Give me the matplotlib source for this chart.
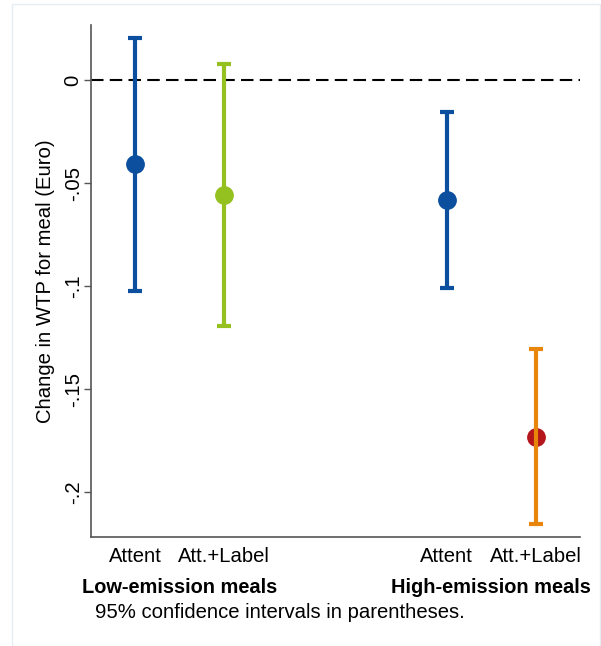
import matplotlib.pyplot as plt
from matplotlib.patches import Rectangle

plt.rcParams['font.family'] = ['Liberation Sans', 'DejaVu Sans']

# estimates and 95% CIs
labels = ['Attent', 'Att.+Label', 'Attent', 'Att.+Label']
groups = ['Low-emission meals', 'High-emission meals']
xpos = [1, 2, 4.5, 5.5]
means = [-0.0408, -0.0558, -0.0583, -0.1733]
lower = [-0.1024, -0.1194, -0.1010, -0.2155]
upper = [0.0204, 0.0078, -0.0155, -0.1306]
line_colors = ['#0b4f9e', '#94c11f', '#0b4f9e', '#e8860c']
dot_colors = ['#0b4f9e', '#94c11f', '#0b4f9e', '#b5161b']

fig = plt.figure(figsize=(6.01, 6.46), dpi=100)
fig.patches.append(Rectangle((12/601, 0), 1 - 13/601, 1 - 4/646, transform=fig.transFigure,
                             fill=False, edgecolor='#e6edf2', linewidth=1))
ax = fig.add_axes([91/601, 109/646, 489/601, 512/646])

ax.axhline(0, color='black', linestyle=(0, (6, 3)), linewidth=1.5, zorder=1)

for i in range(len(xpos)):
    # the last one has the bar drawn over the dot
    zdot = 2 if i == 3 else 4
    ax.plot(xpos[i], means[i], 'o', color=dot_colors[i], markersize=12.5, zorder=zdot)
    ax.errorbar(xpos[i], means[i], yerr=[[means[i] - lower[i]], [upper[i] - means[i]]],
                fmt='none', ecolor=line_colors[i], elinewidth=3, capsize=5, capthick=3, zorder=3)

fs = 14.6
ax.set_xlim(0.5, 6)
ax.set_ylim(-0.2218, 0.0267)
ax.set_yticks([0, -0.05, -0.1, -0.15, -0.2])
ax.set_yticklabels(['0', '-.05', '-.1', '-.15', '-.2'], rotation=90, va='center', fontsize=fs)
ax.set_xticks(xpos)
ax.set_xticklabels(labels, fontsize=fs)
ax.tick_params(axis='x', length=0, pad=7)
ax.tick_params(axis='y', length=5, width=1, color='#555555', pad=1)
ax.set_ylabel('Change in WTP for meal (Euro)', fontsize=fs, labelpad=6)

for s in ['top', 'right']:
    ax.spines[s].set_visible(False)
for s in ['left', 'bottom']:
    ax.spines[s].set_color('#555555')
    ax.spines[s].set_linewidth(1.2)

ax.text((xpos[0] + xpos[1]) / 2, -0.2465, groups[0], ha='center', va='center',
        fontsize=14.4, fontweight='bold')
ax.text((xpos[2] + xpos[3]) / 2, -0.2465, groups[1], ha='center', va='center',
        fontsize=14.4, fontweight='bold')
fig.text(95/601, 1 - 613/646, '95% confidence intervals in parentheses.', ha='left', va='center',
         fontsize=fs)

fig.savefig('out.png', dpi=100)
